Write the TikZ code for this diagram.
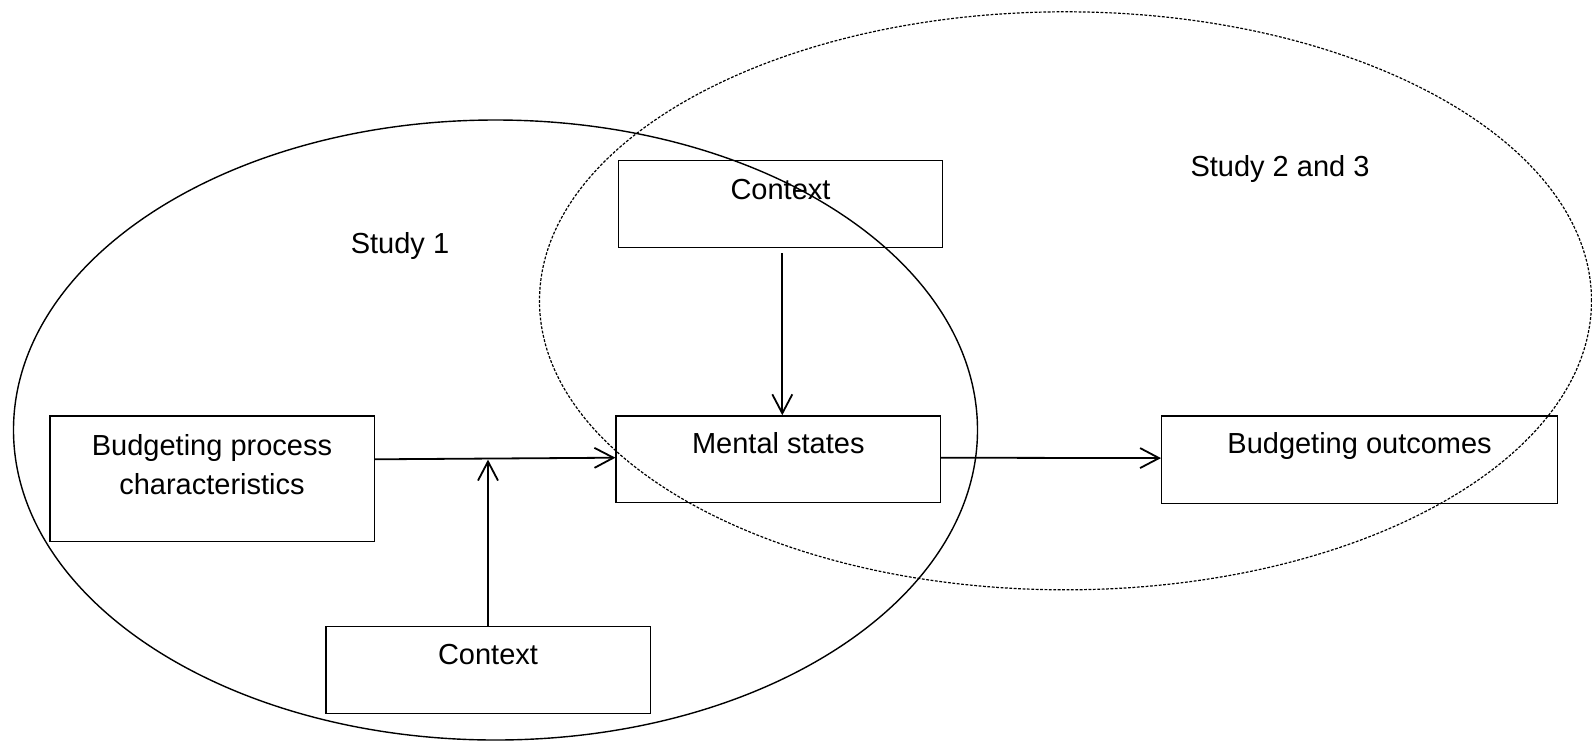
\documentclass[tikz,border=0pt]{standalone}
\usepackage{fontspec}
\setmainfont{Liberation Sans}
\usetikzlibrary{arrows.meta}
\tikzset{
  box/.style={draw, line width=0.7pt, inner sep=0pt, minimum width=162.2pt},
  txt/.style={inner sep=0pt, font=\fontsize{14.5}{19.2}\selectfont, align=center},
  conn/.style={line width=0.9pt, -{Straight Barb[length=9.5pt, width=10pt, line width=0.9pt]}},
  studyone/.style={line width=0.7pt},
  studytwo/.style={line width=0.6pt, dash pattern=on 1.4pt off 0.8pt}
}
\begin{document}
\begin{tikzpicture}[x=0.5pt,y=-0.5pt]
\useasboundingbox (0,0) rectangle (1592,741);
% study regions
\draw[studyone] (495.5,430) ellipse [x radius=241pt, y radius=155pt];
\draw[studytwo] (1065.5,300.8) ellipse [x radius=263pt, y radius=144.5pt];
% boxes
\node[box, minimum height=62.85pt] (bpc) at (212,478.8) {};
\node[box, minimum height=43.3pt] (cb) at (488,670) {};
\node[box, minimum height=43.3pt] (ct) at (780.5,204) {};
\node[box, minimum height=43.35pt] (ms) at (778.3,459.3) {};
\node[box, minimum height=43.65pt, minimum width=197.9pt] (oc) at (1359.6,459.7) {};
% texts
\node[txt, anchor=north] (tbpc) at (212,434.3) {Budgeting process\\characteristics};
\node[txt, anchor=base] (tcb) at (488,664.3) {Context};
\node[txt, anchor=base] (tct) at (780.5,199.3) {Context};
\node[txt, anchor=base] (tms) at (778.3,453.3) {Mental states};
\node[txt, anchor=base] (toc) at (1359.6,453.5) {Budgeting outcomes};
\node[txt, anchor=base] (s1) at (400,253.8) {Study 1};
\node[txt, anchor=base] (s23) at (1280,176.7) {Study 2 and 3};
% connectors
\coordinate (j) at (488,459.6);
\draw[conn] ([yshift=9.75pt]bpc.east) -- ([yshift=0.8pt]ms.west);
\draw[conn] (cb.north) -- (j);
\draw[conn] ([xshift=0.9pt,yshift=-2.5pt]ct.south) -- ([xshift=2pt]ms.north);
\draw[conn] ([yshift=0.8pt]ms.east) -- ([yshift=0.8pt]oc.west);
\end{tikzpicture}
\end{document}
